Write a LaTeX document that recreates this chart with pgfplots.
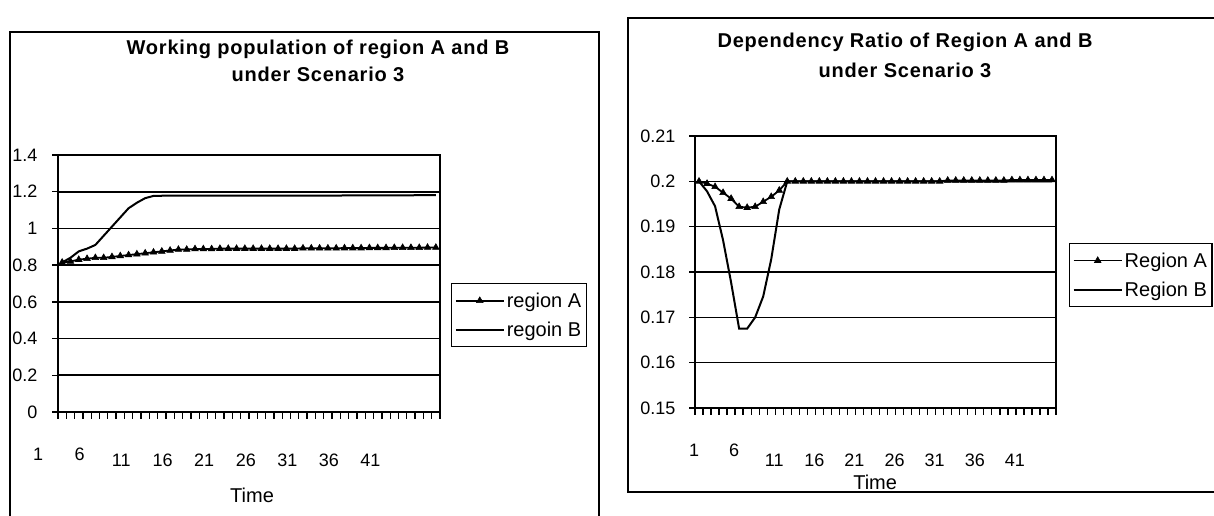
\documentclass[border=0pt]{standalone}
\usepackage{pgfplots}
\pgfplotsset{compat=1.18}
\usepackage{fontspec}
\setmainfont{Liberation Sans}

% Region A / Region B, scenario 3, time steps 1..46 (left) and 1..45 (right)
\pgfplotstableread{
t  A      B
1  0.815  0.815
2  0.820  0.840
3  0.830  0.875
4  0.835  0.890
5  0.840  0.910
6  0.840  0.960
7  0.845  1.010
8  0.850  1.060
9  0.855  1.110
10 0.860  1.140
11 0.865  1.165
12 0.870  1.177
13 0.875  1.178
14 0.880  1.178
15 0.885  1.178
16 0.885  1.178
17 0.888  1.178
18 0.888  1.178
19 0.888  1.178
20 0.890  1.178
21 0.890  1.178
22 0.890  1.178
23 0.890  1.178
24 0.890  1.178
25 0.890  1.178
26 0.890  1.178
27 0.890  1.178
28 0.890  1.178
29 0.890  1.178
30 0.892  1.178
31 0.892  1.178
32 0.892  1.178
33 0.892  1.178
34 0.892  1.178
35 0.893  1.180
36 0.893  1.180
37 0.893  1.180
38 0.894  1.180
39 0.894  1.180
40 0.894  1.180
41 0.895  1.180
42 0.895  1.180
43 0.895  1.180
44 0.895  1.182
45 0.896  1.182
46 0.896  1.182
}\working

\pgfplotstableread{
t  A       B
1  0.2000  0.2000
2  0.1995  0.1978
3  0.1988  0.1945
4  0.1975  0.1870
5  0.1962  0.1777
6  0.1944  0.1675
7  0.1942  0.1675
8  0.1944  0.1700
9  0.1955  0.1746
10 0.1966  0.1828
11 0.1980  0.1938
12 0.2000  0.2000
13 0.2000  0.2000
14 0.2000  0.2000
15 0.2000  0.2000
16 0.2000  0.2000
17 0.2000  0.2000
18 0.2000  0.2000
19 0.2000  0.2000
20 0.2000  0.2000
21 0.2000  0.2000
22 0.2000  0.2000
23 0.2000  0.2000
24 0.2000  0.2000
25 0.2000  0.2000
26 0.2000  0.2000
27 0.2000  0.2000
28 0.2000  0.2000
29 0.2000  0.2000
30 0.2000  0.2000
31 0.2000  0.2000
32 0.2002  0.2000
33 0.2002  0.2000
34 0.2002  0.2000
35 0.2002  0.2000
36 0.2002  0.2000
37 0.2002  0.2000
38 0.2002  0.2000
39 0.2002  0.2000
40 0.2003  0.2000
41 0.2003  0.2000
42 0.2003  0.2000
43 0.2003  0.2000
44 0.2003  0.2000
45 0.2003  0.2000
}\dependency

\pgfplotsset{
  excelstyle/.style={
    scale only axis,
    anchor=south west,
    axis line style={line width=1.6pt},
    ymajorgrids,
    grid style={black, line width=1.6pt},
    tick align=outside,
    xtick pos=bottom, ytick pos=left,
    major tick length=6pt, minor tick length=7pt,
    tick style={black, line width=1.3pt},
    major x tick style={draw=none},
    every tick label/.append style={font=\fontsize{18}{21}\selectfont},
    /pgf/number format/assume math mode=true,
    xticklabel style={anchor=base, yshift=-48pt},
    xlabel style={font=\fontsize{20}{24}\selectfont},
    legend cell align=left,
    legend style={draw=black, line width=1.4pt, font=\fontsize{20}{23}\selectfont,
      anchor=north west, inner xsep=3pt, inner ysep=7pt, row sep=9pt},
    legend image code/.code={\draw[mark repeat=2, mark phase=2, #1]
      plot coordinates {(0pt,0pt) (24pt,0pt) (48pt,0pt)};},
  },
  seriesA/.style={black, line width=1.8pt, mark=triangle*, mark size=3.8pt,
    mark options={solid, line width=0.6pt}},
  seriesB/.style={black, line width=2pt, no marks},
}

\begin{document}
\begin{tikzpicture}[x=1pt, y=1pt]
\useasboundingbox (0,0) rectangle (1214,516);
\fill[white] (0,0) rectangle (1214,516);

% chart frames
\draw[line width=1.5pt] (10,-10) -- (10,484) -- (599,484) -- (599,-10);
\draw[line width=1.5pt] (1230,24) -- (628,24) -- (628,498) -- (1230,498);

% titles
\node[font=\bfseries\fontsize{20}{27}\selectfont\addfontfeature{LetterSpace=4},
  align=center] at (318,455)
  {Working population of region A and B\\under Scenario 3};
\node[font=\bfseries\fontsize{20}{30}\selectfont\addfontfeature{LetterSpace=4},
  align=center] at (905,461)
  {Dependency Ratio of Region A and B\\under Scenario 3};

\begin{axis}[excelstyle,
  at={(58pt,104pt)}, width=382pt, height=257pt,
  xmin=0.5, xmax=46.5, ymin=0, ymax=1.4,
  ytick={0,0.2,...,1.4},
  yticklabels={0,0.2,0.4,0.6,0.8,1,1.2,1.4},
  yticklabel style={xshift=-11pt},
  minor xtick={0.5,1.5,...,46.5},
  xtick={1,6,...,41},
  xticklabels={\raisebox{6pt}{1},\raisebox{6pt}{6},11,16,21,26,31,36,41},
  xticklabel style={xshift=-24pt},
  xlabel={Time},
  xlabel style={at={(axis description cs:0.508,-0.323)}, anchor=center},
  legend style={at={(axis description cs:1.029,0.502)}},
]
\addplot[seriesA] table[x=t, y=A] {\working};
\addlegendentry{region A}
\addplot[seriesB] table[x=t, y=B] {\working};
\addlegendentry{regoin B}
\end{axis}

\begin{axis}[excelstyle,
  at={(695pt,108pt)}, width=361pt, height=272pt,
  xmin=0.5, xmax=45.5, ymin=0.15, ymax=0.21,
  ytick={0.15,0.16,...,0.21},
  yticklabels={0.15,0.16,0.17,0.18,0.19,0.2,0.21},
  yticklabel style={xshift=-10pt},
  minor xtick={0.5,1.5,...,45.5},
  xtick={1,6,...,41},
  xticklabels={\raisebox{10pt}{1},\raisebox{10pt}{6},11,16,21,26,31,36,41},
  xticklabel style={xshift=-5pt, yshift=-4pt},
  xlabel={Time},
  xlabel style={at={(axis description cs:0.499,-0.272)}, anchor=center},
  legend style={at={(axis description cs:1.036,0.607)}},
]
\addplot[seriesA] table[x=t, y=A] {\dependency};
\addlegendentry{Region A}
\addplot[seriesB] table[x=t, y=B] {\dependency};
\addlegendentry{Region B}
\end{axis}
\end{tikzpicture}
\end{document}
